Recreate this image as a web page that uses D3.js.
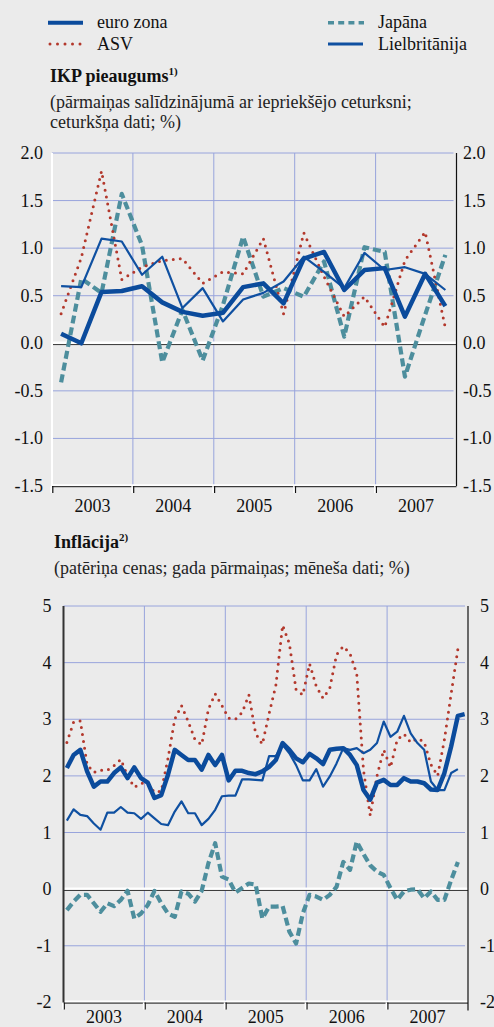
<!DOCTYPE html>
<meta charset="utf-8">
<script src="https://cdn.jsdelivr.net/npm/d3@7/dist/d3.min.js"></script>
<style>
body{margin:0;background:#ebebeb;}
svg{display:block;font-family:"Liberation Serif","Times New Roman",serif;}
</style>
<body>
<svg id="chart" width="494" height="1027"></svg>
<script>
var years=["2003","2004","2005","2006","2007"];
var names=["euro zona","ASV","Japāna","Lielbritānija"];

// IKP pieaugums, ceturkšņa dati 2003 Q1 - 2007 Q4
var gdpEuro=[0.10,0.00,0.54,0.55, 0.60,0.43,0.33,0.29, 0.32,0.59,0.63,0.42, 0.89,0.96,0.56,0.77, 0.79,0.28,0.73,0.39];
var gdpAsv =[0.31,0.90,1.81,0.67, 0.80,0.87,0.89,0.63, 0.75,0.73,1.10,0.31, 1.16,0.70,0.28,0.49, 0.17,0.87,1.17,0.16];
var gdpJap =[-0.41,0.68,0.53,1.57, 1.03,-0.20,0.35,-0.18, 0.40,1.12,0.49,0.58, 0.49,0.86,0.07,1.01, 0.96,-0.35,0.30,0.93];
var gdpUk  =[0.60,0.59,1.10,1.07, 0.72,0.91,0.37,0.58, 0.23,0.46,0.53,0.65, 0.91,0.75,0.58,0.95, 0.77,0.80,0.73,0.56];
var gdpTicks=[2.0,1.5,1.0,0.5,0.0,-0.5,-1.0,-1.5];

// Inflācija, mēneša dati 2003 jan - 2007 dec
var infEuro=[2.14,2.37,2.46,2.08,1.81,1.90,1.90,2.05,2.15,1.96,2.15,1.96,
             1.88,1.61,1.66,2.02,2.46,2.37,2.28,2.28,2.11,2.37,2.19,2.37,
             1.92,2.09,2.09,2.05,2.03,2.08,2.16,2.28,2.58,2.46,2.31,2.24,
             2.39,2.31,2.21,2.46,2.48,2.49,2.37,2.19,1.75,1.58,1.88,1.93,
             1.84,1.84,1.96,1.90,1.90,1.87,1.76,1.75,2.05,2.52,3.06,3.09];
var infAsv =[2.59,2.95,2.97,2.20,2.06,2.10,2.10,2.18,2.29,2.00,1.80,1.87,
             1.86,1.71,1.73,2.31,3.00,3.24,2.96,2.64,2.55,3.18,3.45,3.24,
             3.02,3.00,3.12,3.43,2.75,2.56,3.10,3.60,4.66,4.34,3.52,3.43,
             3.98,3.58,3.37,3.55,4.14,4.29,4.16,3.80,2.10,1.30,2.00,2.46,
             2.15,2.64,2.74,2.59,2.66,2.60,2.20,2.00,2.64,3.45,4.24];
var infJap =[-0.37,-0.22,-0.10,-0.10,-0.25,-0.40,-0.25,-0.30,-0.19,-0.03,-0.52,-0.43,
             -0.28,-0.03,-0.25,-0.43,-0.49,-0.04,-0.08,-0.22,-0.03,0.46,0.81,0.22,
             0.17,-0.06,0.02,0.10,0.08,-0.52,-0.31,-0.31,-0.30,-0.75,-0.96,-0.43,
             -0.10,-0.13,-0.19,-0.10,0.04,0.48,0.34,0.84,0.62,0.42,0.31,0.25,
             0.02,-0.19,-0.04,-0.01,0.00,-0.16,-0.04,-0.19,-0.19,0.16,0.48];
var infUk  =[1.21,1.41,1.31,1.29,1.16,1.05,1.35,1.35,1.45,1.35,1.34,1.24,
             1.35,1.25,1.15,1.13,1.37,1.55,1.34,1.34,1.13,1.24,1.40,1.64,
             1.65,1.65,1.94,1.94,1.93,1.92,2.35,2.35,2.55,2.40,2.19,1.92,
             1.92,2.12,1.81,1.99,2.22,2.49,2.46,2.49,2.40,2.46,2.58,2.96,
             2.69,2.78,3.06,2.75,2.58,2.46,1.90,1.75,1.75,2.05,2.12];
var infTicks=[5,4,3,2,1,0,-1,-2];

var svg=d3.select("#chart");
var gridCol="#98a4dc";
var st={
  euro:{color:"#0b4b9c",w:4.5,dash:null,cap:"butt"},
  asv:{color:"#b3382c",w:3,dash:"0,7",cap:"round"},
  jap:{color:"#4d8e9d",w:4.2,dash:"8,4",cap:"butt"},
  uk:{color:"#0f50a1",w:2.2,dash:null,cap:"butt"}
};

// legend
function legLine(x1,x2,y,s,w,dash){
  svg.append("line").attr("x1",x1).attr("x2",x2).attr("y1",y).attr("y2",y)
    .attr("stroke",s.color).attr("stroke-width",w||s.w)
    .attr("stroke-dasharray",dash||s.dash).attr("stroke-linecap",s.cap);
}
legLine(48,83,22.7,st.euro,4);
legLine(50,85,44,st.asv,3,"0,7.5");
legLine(328,364,22.7,st.jap,3.5,"6,4.2");
legLine(328,363,44,st.uk,3);
[[names[0],97,28],[names[1],97,50],[names[2],378,28],[names[3],378,50]].forEach(function(d){
  svg.append("text").attr("x",d[1]).attr("y",d[2]).attr("font-size",18).attr("fill","#111").text(d[0]);
});

function title(x,y,t,sup,sub){
  var tt=svg.append("text").attr("x",x).attr("y",y).attr("font-size",18).attr("font-weight","bold").attr("fill","#111");
  tt.append("tspan").text(t);
  tt.append("tspan").attr("font-size",11).attr("dy",-7).text(sup);
  sub.forEach(function(s,i){
    svg.append("text").attr("x",x).attr("y",y+26+i*19.5).attr("font-size",18).attr("fill","#222").text(s);
  });
}
title(50,82,"IKP pieaugums","1)",["(pārmaiņas salīdzinājumā ar iepriekšējo ceturksni;","ceturkšņa dati; %)"]);
title(54,548,"Inflācija","2)",["(patēriņa cenas; gada pārmaiņas; mēneša dati; %)"]);

function panel(o){
  var x=d3.scaleLinear().domain([2003,2008]).range([o.x0,o.x1]);
  var y=d3.scaleLinear().domain([d3.min(o.ticks),d3.max(o.ticks)]).range([o.y1,o.y0]);
  var g=svg.append("g");
  // horizontal grid
  g.selectAll(".hg").data(o.ticks.filter(function(t){return t!==0&&t!==d3.min(o.ticks);}))
    .enter().append("line").attr("x1",o.x0).attr("x2",o.x1-3)
    .attr("y1",function(t){return y(t);}).attr("y2",function(t){return y(t);})
    .attr("stroke",gridCol).attr("stroke-width",1);
  // vertical grid
  g.selectAll(".vg").data(years.slice(1)).enter().append("line")
    .attr("x1",function(d){return x(+d);}).attr("x2",function(d){return x(+d);})
    .attr("y1",o.y0).attr("y2",o.y1).attr("stroke",gridCol).attr("stroke-width",1);
  // zero line
  g.append("line").attr("x1",o.x0).attr("x2",o.x1).attr("y1",y(0)-0.5).attr("y2",y(0)-0.5)
    .attr("stroke","#fff").attr("stroke-width",2.5);
  g.append("line").attr("x1",o.x0).attr("x2",o.x1).attr("y1",y(0)+1.3).attr("y2",y(0)+1.3)
    .attr("stroke","#333").attr("stroke-width",1);
  // bottom axis
  g.append("line").attr("x1",o.x0-1).attr("x2",o.x1).attr("y1",o.y1-0.8).attr("y2",o.y1-0.8)
    .attr("stroke","#fff").attr("stroke-width",2);
  g.append("line").attr("x1",o.x0).attr("x2",o.x1).attr("y1",o.y1+0.7).attr("y2",o.y1+0.7)
    .attr("stroke","#111").attr("stroke-width",1);
  g.selectAll(".tk").data(years).enter().append("line")
    .attr("x1",function(d){return x(+d)+0.8;}).attr("x2",function(d){return x(+d)+0.8;})
    .attr("y1",o.y1).attr("y2",o.y1+7).attr("stroke","#111").attr("stroke-width",1.2);
  g.selectAll(".tkw").data(years).enter().append("line")
    .attr("x1",function(d){return x(+d)-0.8;}).attr("x2",function(d){return x(+d)-0.8;})
    .attr("y1",o.y1).attr("y2",o.y1+7).attr("stroke","#fff").attr("stroke-width",1.5);
  // left axis
  g.append("line").attr("x1",o.x0).attr("x2",o.x0).attr("y1",o.y0).attr("y2",o.y1)
    .attr("stroke",o.leftCol).attr("stroke-width",2);
  // right axis
  g.append("line").attr("x1",o.x1).attr("x2",o.x1).attr("y1",o.y0).attr("y2",o.y1+o.rExt)
    .attr("stroke","#111").attr("stroke-width",1.2);
  // labels
  g.selectAll(".yl").data(o.ticks).enter().append("text")
    .attr("x",o.x0-o.lGap).attr("y",function(t){return y(t)+6;})
    .attr("text-anchor","end").attr("font-size",18).attr("fill","#111")
    .text(o.fmt);
  g.selectAll(".yr").data(o.ticks).enter().append("text")
    .attr("x",o.x1+o.rGap).attr("y",function(t){return y(t)+6;})
    .attr("font-size",18).attr("fill","#111").text(o.fmt);
  g.selectAll(".xl").data(years).enter().append("text")
    .attr("x",function(d){return x(+d+0.5);}).attr("y",o.yearY)
    .attr("text-anchor","middle").attr("font-size",18).attr("fill","#111")
    .text(function(d){return d;});
  // series
  var line=d3.line()
    .x(function(v,i){return x(2003+(i+o.off)/o.per);})
    .y(function(v){return y(v);});
  o.series.forEach(function(s){
    var sty=st[s[0]];
    g.append("path").datum(s[1]).attr("d",line).attr("fill","none")
      .attr("stroke",sty.color).attr("stroke-width",sty.w)
      .attr("stroke-dasharray",sty.dash).attr("stroke-linecap",sty.cap)
      .attr("stroke-linejoin","round");
  });
}

panel({x0:52,x1:456.5,y0:153,y1:486,ticks:gdpTicks,per:4,off:0.45,leftCol:"#fff",
  lGap:9,rGap:6.5,rExt:0,yearY:512,
  fmt:function(t){return t.toFixed(1);},
  series:[["jap",gdpJap],["asv",gdpAsv],["uk",gdpUk],["euro",gdpEuro]]});

panel({x0:63.5,x1:468,y0:606,y1:1002.4,ticks:infTicks,per:12,off:0.5,leftCol:"#333",
  lGap:12,rGap:12,rExt:8,yearY:1023,
  fmt:function(t){return String(t);},
  series:[["jap",infJap],["asv",infAsv],["uk",infUk],["euro",infEuro]]});
</script>
</body>
